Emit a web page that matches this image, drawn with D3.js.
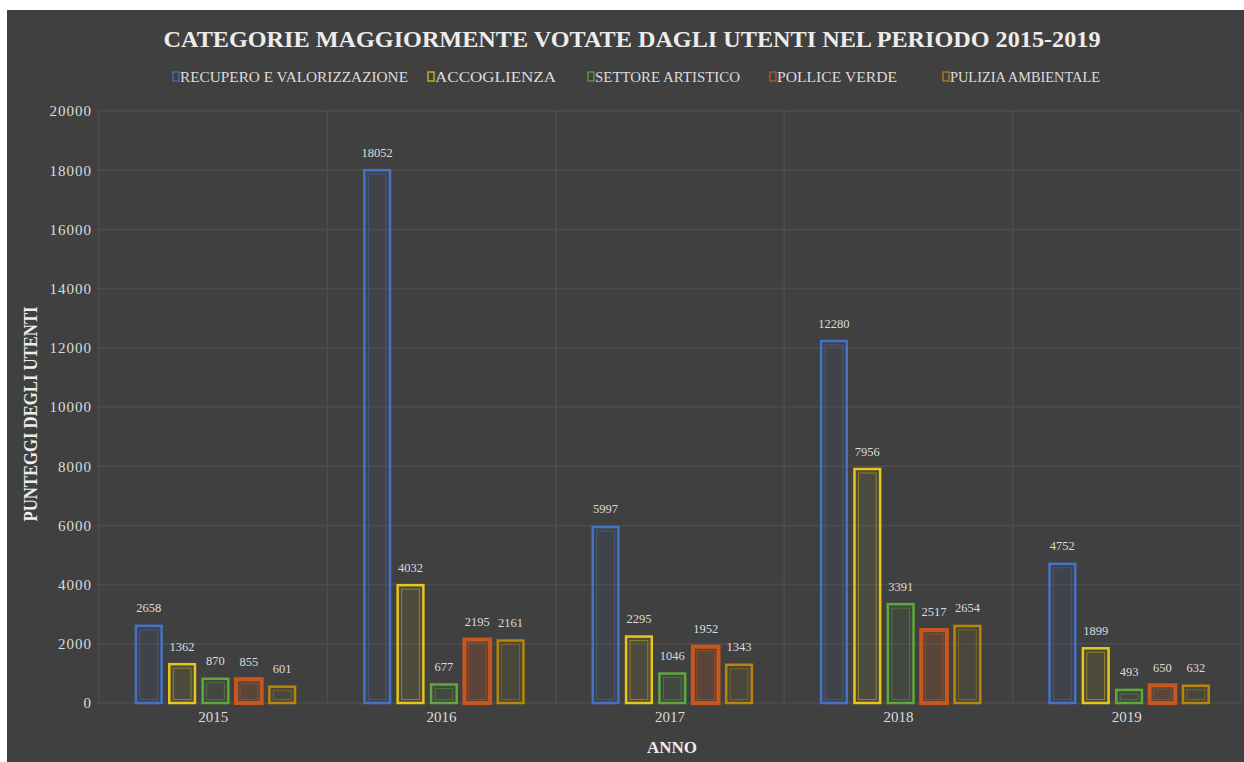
<!DOCTYPE html>
<html>
<head>
<meta charset="utf-8">
<script src="https://cdn.jsdelivr.net/npm/d3@7"></script>
<style>
  body { margin: 0; background: #fff; }
  svg text { font-family: "Liberation Serif", "Times New Roman", serif; }
</style>
</head>
<body>
<svg id="chart" width="1244" height="762"></svg>
<script>
// data
const years = ["2015", "2016", "2017", "2018", "2019"];
const seriesNames = ["RECUPERO E VALORIZZAZIONE", "ACCOGLIENZA", "SETTORE ARTISTICO", "POLLICE VERDE", "PULIZIA AMBIENTALE"];
const recupero = [2658, 18052, 5997, 12280, 4752];
const accoglienza = [1362, 4032, 2295, 7956, 1899];
const settore = [870, 677, 1046, 3391, 493];
const pollice = [855, 2195, 1952, 2517, 650];
const pulizia = [601, 2161, 1343, 2654, 632];
const yTicks = [0, 2000, 4000, 6000, 8000, 10000, 12000, 14000, 16000, 18000, 20000];

const colors = ["#4472C4", "#E6C619", "#5FA83C", "#C9561C", "#B8860B"];
const allSeries = [recupero, accoglienza, settore, pollice, pulizia];

const svg = d3.select("#chart");
const txt = "#dcdcdc";

// background panel (white strip left and top like the screenshot)
svg.append("rect")
  .attr("x", 7).attr("y", 10)
  .attr("width", 1237).attr("height", 752)
  .attr("fill", "#404040");

const margin = {left: 99, right: 3, top: 111, bottom: 59};
const W = 1244, H = 762;

const x0 = d3.scaleBand()
  .domain(years)
  .range([margin.left, W - margin.right]);

const x1 = d3.scaleBand()
  .domain(d3.range(seriesNames.length))
  .range([x0.bandwidth() * 0.155, x0.bandwidth() * 0.865])
  .paddingInner(0.14);

const y = d3.scaleLinear()
  .domain([0, 20000])
  .range([H - margin.bottom, margin.top]);

// horizontal gridlines
svg.append("g")
  .attr("class", "grid-h")
  .selectAll("line")
  .data(yTicks)
  .join("line")
    .attr("x1", margin.left - 2)
    .attr("x2", W - margin.right)
    .attr("y1", d => y(d))
    .attr("y2", d => y(d))
    .attr("stroke", "#4d4d4d")
    .attr("stroke-width", 1.5);

// vertical separators between the years
const bounds = years.map(d => x0(d)).concat([x0(years[years.length - 1]) + x0.bandwidth()]);
svg.append("g")
  .attr("class", "grid-v")
  .selectAll("line")
  .data(bounds)
  .join("line")
    .attr("x1", d => d).attr("x2", d => d)
    .attr("y1", y(20000)).attr("y2", y(0))
    .attr("stroke", "#4d4d4d")
    .attr("stroke-width", 1.5);

// y axis labels
const yAxis = svg.append("g")
  .attr("transform", `translate(${margin.left - 7},0)`)
  .call(d3.axisLeft(y).tickValues(yTicks).tickSize(0).tickPadding(0).tickFormat(d3.format("d")));
yAxis.select(".domain").remove();
yAxis.selectAll("text")
  .attr("fill", txt)
  .style("font-size", "15px")
  .style("letter-spacing", "1px")
  .style("font-family", "Liberation Serif, serif");

// x axis labels
const xAxis = svg.append("g")
  .attr("transform", `translate(0,${y(0) + 8})`)
  .call(d3.axisBottom(x0).tickSize(0).tickPadding(0));
xAxis.select(".domain").remove();
xAxis.selectAll("text")
  .attr("fill", txt)
  .style("font-size", "15px")
  .style("font-family", "Liberation Serif, serif");

// bars
const rows = [];
years.forEach((yr, i) => {
  allSeries.forEach((s, k) => rows.push({year: yr, k: k, value: s[i]}));
});

const bars = svg.append("g").attr("class", "bars");
bars.selectAll("rect.outer")
  .data(rows)
  .join("rect")
    .attr("class", "outer")
    .attr("x", d => x0(d.year) + x1(d.k) + 1.5)
    .attr("y", d => y(d.value) + 1.5)
    .attr("width", x1.bandwidth() - 3)
    .attr("height", d => y(0) - y(d.value) - 1.5)
    .attr("fill", d => colors[d.k])
    .attr("fill-opacity", d => d.k === 3 ? 0.2 : 0.08)
    .attr("stroke", d => colors[d.k])
    .attr("stroke-width", d => d.k === 3 ? 4 : 2.5);

bars.selectAll("rect.inner")
  .data(rows)
  .join("rect")
    .attr("class", "inner")
    .attr("x", d => x0(d.year) + x1(d.k) + 5.5)
    .attr("y", d => y(d.value) + 5.5)
    .attr("width", x1.bandwidth() - 11)
    .attr("height", d => Math.max(0, y(0) - y(d.value) - 9))
    .attr("fill", "none")
    .attr("stroke", d => colors[d.k])
    .attr("stroke-opacity", 0.45)
    .attr("stroke-width", 1);

// value labels
svg.append("g")
  .attr("class", "bar-values")
  .selectAll("text")
  .data(rows)
  .join("text")
    .attr("x", d => x0(d.year) + x1(d.k) + x1.bandwidth() / 2)
    .attr("y", d => y(d.value) - 12)
    .attr("text-anchor", "middle")
    .attr("fill", txt)
    .style("font-size", "12.5px")
    .text(d => d.value);

// title
svg.append("text")
  .attr("x", 632).attr("y", 47)
  .attr("text-anchor", "middle")
  .attr("fill", "#ececec")
  .attr("textLength", 937)
  .attr("lengthAdjust", "spacingAndGlyphs")
  .style("font-size", "24px")
  .style("font-weight", "bold")
  .text("CATEGORIE MAGGIORMENTE VOTATE DAGLI UTENTI NEL PERIODO 2015-2019");

// legend
const legendX = [173, 428, 588, 770, 943];
const legendW = [228, 121, 145, 120, 150];
const legend = svg.append("g").attr("class", "legend");
const items = legend.selectAll("g")
  .data(seriesNames)
  .join("g")
    .attr("transform", (d, i) => `translate(${legendX[i]},82)`);
items.append("rect")
  .attr("x", 0).attr("y", -10)
  .attr("width", 6).attr("height", 9)
  .attr("fill", "none")
  .attr("stroke", (d, i) => colors[i])
  .attr("stroke-width", 1.2);
items.append("text")
  .attr("x", 7).attr("y", 0)
  .attr("fill", txt)
  .attr("textLength", (d, i) => legendW[i])
  .attr("lengthAdjust", "spacingAndGlyphs")
  .style("font-size", "15px")
  .text(d => d);

// axis titles
svg.append("text")
  .attr("transform", `translate(37,414) rotate(-90)`)
  .attr("text-anchor", "middle")
  .attr("fill", "#ececec")
  .attr("textLength", 215)
  .attr("lengthAdjust", "spacingAndGlyphs")
  .style("font-size", "19px")
  .style("font-weight", "bold")
  .text("PUNTEGGI DEGLI UTENTI");

svg.append("text")
  .attr("x", 672).attr("y", 753)
  .attr("text-anchor", "middle")
  .attr("fill", "#ececec")
  .style("font-size", "17px")
  .style("font-weight", "bold")
  .text("ANNO");
</script>
</body>
</html>
